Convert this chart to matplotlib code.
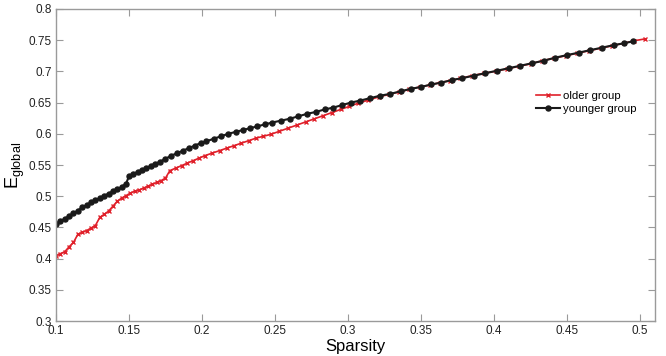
import matplotlib
matplotlib.use('Agg')
import matplotlib.pyplot as plt

plt.rcParams['font.family'] = ['Liberation Sans', 'DejaVu Sans']
plt.rcParams['mathtext.fontset'] = 'custom'
plt.rcParams['mathtext.rm'] = 'Liberation Sans'
plt.rcParams['mathtext.it'] = 'Liberation Sans'

# younger group (black)
young_x = [0.100, 0.103, 0.106, 0.109, 0.112, 0.115, 0.118, 0.121, 0.124, 0.127,
           0.130, 0.133, 0.136, 0.139, 0.142, 0.145, 0.148, 0.150, 0.153, 0.156,
           0.159, 0.162, 0.165, 0.168, 0.171, 0.175, 0.179, 0.183, 0.187, 0.191,
           0.195, 0.199, 0.203, 0.208, 0.213, 0.218, 0.223, 0.228, 0.233, 0.238,
           0.243, 0.248, 0.254, 0.260, 0.266, 0.272, 0.278, 0.284, 0.290, 0.296,
           0.302, 0.308, 0.315, 0.322, 0.329, 0.336, 0.343, 0.350, 0.357, 0.364,
           0.371, 0.378, 0.386, 0.394, 0.402, 0.410, 0.418, 0.426, 0.434, 0.442,
           0.450, 0.458, 0.466, 0.474, 0.482, 0.489, 0.495]
young_y = [0.456, 0.460, 0.464, 0.468, 0.473, 0.477, 0.482, 0.486, 0.490, 0.494,
           0.497, 0.501, 0.504, 0.508, 0.511, 0.515, 0.520, 0.532, 0.536, 0.539,
           0.542, 0.545, 0.549, 0.552, 0.555, 0.560, 0.565, 0.569, 0.573, 0.577,
           0.581, 0.585, 0.588, 0.592, 0.596, 0.600, 0.603, 0.606, 0.609, 0.612,
           0.615, 0.618, 0.621, 0.624, 0.628, 0.632, 0.635, 0.639, 0.642, 0.646,
           0.650, 0.653, 0.657, 0.661, 0.664, 0.668, 0.672, 0.675, 0.679, 0.682,
           0.686, 0.689, 0.693, 0.697, 0.701, 0.705, 0.709, 0.713, 0.717, 0.722,
           0.726, 0.730, 0.734, 0.738, 0.742, 0.745, 0.748]

# older group (red)
old_x = [0.100, 0.103, 0.106, 0.109, 0.112, 0.115, 0.118, 0.121, 0.124, 0.127,
         0.130, 0.133, 0.136, 0.139, 0.142, 0.145, 0.148, 0.151, 0.154, 0.157,
         0.160, 0.163, 0.166, 0.169, 0.172, 0.175, 0.178, 0.182, 0.186, 0.190,
         0.194, 0.198, 0.202, 0.207, 0.212, 0.217, 0.222, 0.227, 0.232, 0.237,
         0.242, 0.247, 0.253, 0.259, 0.265, 0.271, 0.277, 0.283, 0.289, 0.295,
         0.301, 0.307, 0.314, 0.321, 0.328, 0.335, 0.342, 0.349, 0.356, 0.363,
         0.370, 0.377, 0.385, 0.393, 0.401, 0.409, 0.417, 0.425, 0.433, 0.441,
         0.449, 0.457, 0.465, 0.473, 0.481, 0.489, 0.496, 0.5035]
old_y = [0.405, 0.408, 0.411, 0.419, 0.426, 0.439, 0.442, 0.445, 0.449, 0.453,
         0.466, 0.471, 0.476, 0.484, 0.492, 0.497, 0.501, 0.505, 0.508, 0.510,
         0.513, 0.516, 0.519, 0.522, 0.525, 0.529, 0.541, 0.545, 0.549, 0.553,
         0.557, 0.561, 0.565, 0.569, 0.573, 0.577, 0.581, 0.585, 0.589, 0.593,
         0.596, 0.599, 0.604, 0.609, 0.614, 0.619, 0.624, 0.629, 0.634, 0.639,
         0.644, 0.649, 0.654, 0.659, 0.663, 0.667, 0.671, 0.675, 0.678, 0.682,
         0.685, 0.689, 0.693, 0.697, 0.700, 0.704, 0.708, 0.712, 0.717, 0.721,
         0.725, 0.729, 0.733, 0.737, 0.741, 0.745, 0.749, 0.752]

x_ticks = [0.1, 0.15, 0.2, 0.25, 0.3, 0.35, 0.4, 0.45, 0.5]
x_labels = ['0.1', '0.15', '0.2', '0.25', '0.3', '0.35', '0.4', '0.45', '0.5']
y_ticks = [0.3, 0.35, 0.4, 0.45, 0.5, 0.55, 0.6, 0.65, 0.7, 0.75, 0.8]
y_labels = ['0.3', '0.35', '0.4', '0.45', '0.5', '0.55', '0.6', '0.65', '0.7', '0.75', '0.8']

fig = plt.figure(figsize=(6.66, 3.56), dpi=100)
ax = fig.add_axes([0.084, 0.098, 0.899, 0.877])

ax.plot(old_x, old_y, color='#e0202a', lw=1.2, marker='x', ms=3, mew=1.0,
        label='older group')
ax.plot(young_x, young_y, color='#1a1a1a', lw=1.5, marker='o', ms=3.6,
        label='younger group')

ax.set_xlim(0.1, 0.51)
ax.set_ylim(0.3, 0.8)
ax.set_xticks(x_ticks)
ax.set_xticklabels(x_labels)
ax.set_yticks(y_ticks)
ax.set_yticklabels(y_labels)

for s in ax.spines.values():
    s.set_color('#9a9a9a')
    s.set_linewidth(1.0)
ax.tick_params(direction='in', top=True, right=True, length=5, width=0.8,
               color='#9a9a9a', labelsize=8.5, labelcolor='#222222', pad=3)

ax.set_xlabel('Sparsity', fontsize=12, labelpad=1)
ax.set_ylabel(r'E$_{\mathrm{global}}$', fontsize=13, labelpad=1)

ax.legend(loc='upper left', bbox_to_anchor=(0.795, 0.752), frameon=False,
          fontsize=8.2, handlelength=2.1, handletextpad=0.2, labelspacing=0.3,
          borderaxespad=0)

fig.savefig('out.png', dpi=100)
